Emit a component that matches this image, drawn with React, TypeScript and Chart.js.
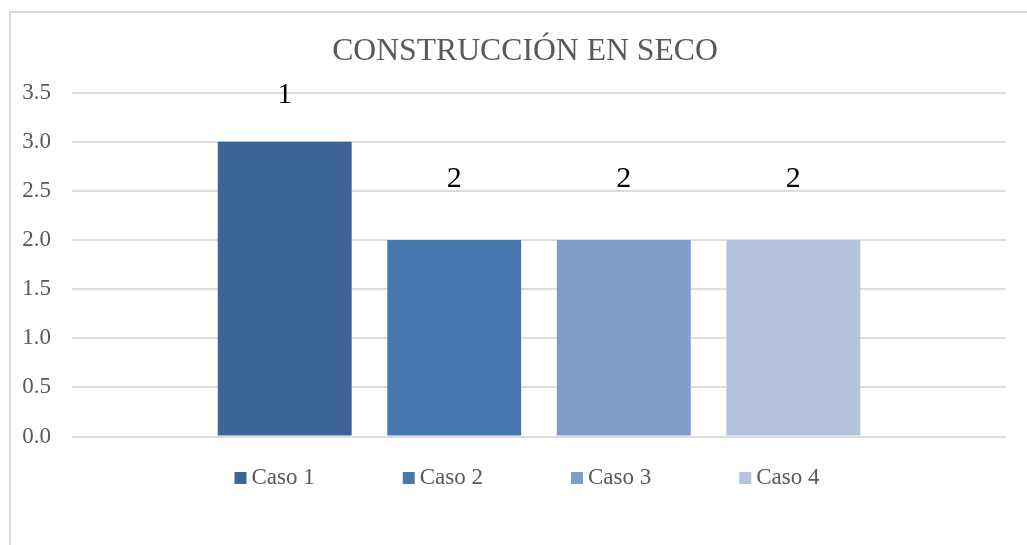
import React, { useEffect, useRef } from "react";
import { Chart, registerables } from "chart.js";

Chart.register(...registerables);

// ---- data ----
const titleText = "CONSTRUCCIÓN EN SECO";
const categories = [""];
const seriesNames = ["Caso 1", "Caso 2", "Caso 3", "Caso 4"];
const seriesValues = [3, 2, 2, 2];
const dataLabels = ["1", "2", "2", "2"];
const seriesColors = ["#3C6494", "#4878B0", "#7F9DC8", "#B4C4DF"];
const yTickValues = [0, 0.5, 1, 1.5, 2, 2.5, 3, 3.5];

const SERIF = '"Liberation Serif", "Times New Roman", serif';
const TEXT_GREY = "#595959";

const barLabelPlugin = {
  id: "barLabels",
  afterDatasetsDraw(chart: any, _args: any, opts: any) {
    const ctx = chart.ctx;
    ctx.save();
    ctx.font = `${opts.size}px ${SERIF}`;
    ctx.fillStyle = opts.color;
    ctx.textAlign = "center";
    ctx.textBaseline = "alphabetic";
    chart.data.datasets.forEach((_ds: any, i: number) => {
      const meta = chart.getDatasetMeta(i);
      meta.data.forEach((bar: any) => {
        ctx.fillText(dataLabels[i], bar.x, bar.y - opts.offsets[i]);
      });
    });
    ctx.restore();
  },
};

const customLegendPlugin = {
  id: "customLegend",
  afterDraw(chart: any, _args: any, opts: any) {
    const ctx = chart.ctx;
    ctx.save();
    ctx.font = `${opts.size}px ${SERIF}`;
    const items = chart.data.datasets.map((ds: any) => {
      const tw = ctx.measureText(ds.label).width;
      return { label: ds.label, color: ds.backgroundColor, w: opts.box + opts.textGap + tw };
    });
    const total =
      items.reduce((s: number, it: any) => s + it.w, 0) + opts.itemGap * (items.length - 1);
    let x = opts.centerX - total / 2;
    const y = opts.centerY;
    items.forEach((it: any) => {
      ctx.fillStyle = it.color;
      ctx.fillRect(x, y - opts.box / 2, opts.box, opts.box);
      ctx.fillStyle = opts.color;
      ctx.textAlign = "left";
      ctx.textBaseline = "middle";
      ctx.fillText(it.label, x + opts.box + opts.textGap, y);
      x += it.w + opts.itemGap;
    });
    ctx.restore();
  },
};

export default function App() {
  const canvasRef = useRef<HTMLCanvasElement | null>(null);

  useEffect(() => {
    if (!canvasRef.current) return;
    const chart = new Chart(canvasRef.current, {
      type: "bar",
      data: {
        labels: categories,
        datasets: seriesNames.map((name, i) => ({
          label: name,
          data: [seriesValues[i]],
          backgroundColor: seriesColors[i],
          borderWidth: 0,
          categoryPercentage: 0.726,
          barPercentage: 0.79,
        })),
      },
      options: {
        animation: false,
        responsive: false,
        maintainAspectRatio: false,
        layout: { padding: { left: 8, right: 18, top: 0, bottom: 108.5 } },
        scales: {
          x: { display: false },
          y: {
            min: 0,
            max: 3.5,
            afterBuildTicks: (scale: any) => {
              scale.ticks = yTickValues.map((v) => ({ value: v }));
            },
            afterFit: (scale: any) => {
              scale.width = 64;
            },
            border: { display: false },
            grid: { color: "#dddddd", lineWidth: 2, drawTicks: false },
            ticks: {
              padding: 21,
              color: TEXT_GREY,
              font: { family: SERIF, size: 23 },
              callback: (v: any) => Number(v).toFixed(1),
            },
          },
          yRightSpace: {
            type: "linear",
            position: "right",
            display: true,
            afterFit: (scale: any) => {
              scale.width = 36;
            },
            border: { display: false },
            grid: { display: false, drawTicks: false },
            ticks: { display: false },
          },
        },
        plugins: {
          legend: { display: false },
          tooltip: { enabled: false },
          title: {
            display: true,
            text: titleText,
            color: TEXT_GREY,
            font: { family: SERIF, size: 31.7, weight: "normal", lineHeight: 1.2 },
            padding: { top: 32.7, bottom: 22 },
          },
          barLabels: { size: 30, color: "#000000", offsets: [39, 53.3, 53.3, 53.3] },
          customLegend: {
            size: 23,
            color: TEXT_GREY,
            box: 12,
            textGap: 5,
            itemGap: 88,
            centerX: 527,
            centerY: 478,
          },
        } as any,
      },
      plugins: [barLabelPlugin, customLegendPlugin],
    });
    return () => chart.destroy();
  }, []);

  return (
    <div
      style={{
        position: "fixed",
        left: 0,
        top: 0,
        width: 1027,
        height: 545,
        overflow: "hidden",
        background: "#ffffff",
      }}
    >
      <div
        style={{
          position: "absolute",
          left: 9,
          top: 11,
          width: 1100,
          height: 600,
          border: "2px solid #d9d9d9",
        }}
      />
      <canvas
        ref={canvasRef}
        width={1060}
        height={545}
        style={{ position: "absolute", left: 0, top: 0, display: "block" }}
      />
    </div>
  );
}
